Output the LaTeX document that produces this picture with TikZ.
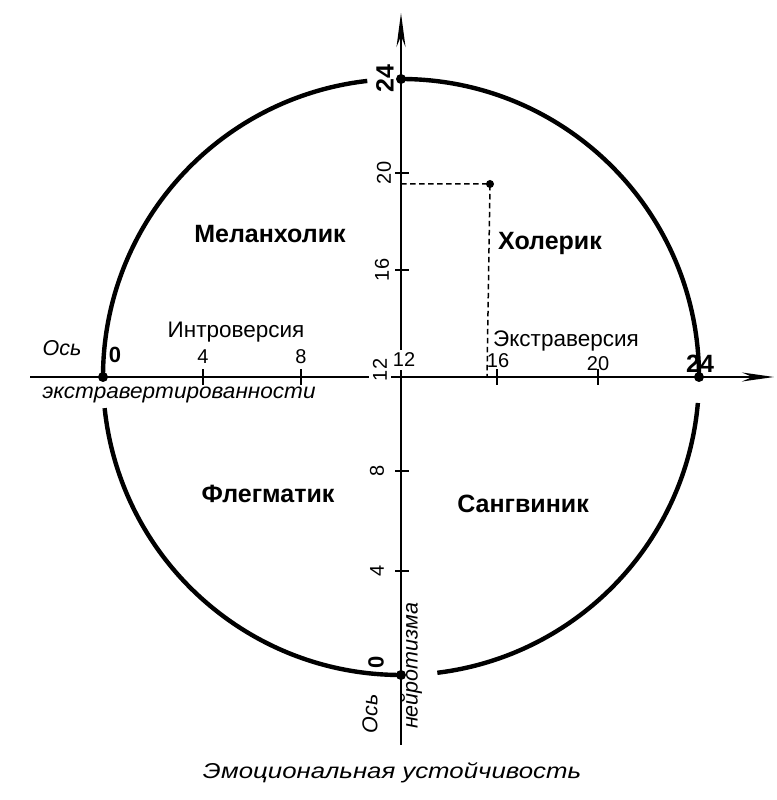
\documentclass[tikz,border=0pt]{standalone}
\usepackage{fontspec}
\setmainfont{Liberation Sans}
\usetikzlibrary{arrows.meta}
\begin{document}
\begin{tikzpicture}[x=1pt,y=1pt,
  axis/.style={line width=2.6pt},
  ring/.style={line width=4.4pt},
  tickmark/.style={line width=2.2pt},
  num/.style={font=\fontsize{20}{20}\selectfont, inner sep=0pt},
  bignum/.style={font=\fontsize{25}{25}\selectfont\bfseries, inner sep=0pt},
  zero/.style={font=\fontsize{22}{22}\selectfont\bfseries, inner sep=0pt},
  typename/.style={font=\fontsize{25}{25}\selectfont\bfseries, inner sep=0pt, anchor=base},
  pole/.style={font=\fontsize{22.5}{22.5}\selectfont, inner sep=0pt, anchor=base},
  axname/.style={font=\fontsize{21.5}{21.5}\selectfont\itshape, inner sep=0pt},
  dot/.style={circle, fill, inner sep=0pt, minimum size=10pt},
  guide/.style={line width=1.5pt, dash pattern=on 5.5pt off 3.5pt}
]
\useasboundingbox (0,0) rectangle (776,800);
% axes
\coordinate (c) at (401,423);
\coordinate (L) at (30,423);
\coordinate (R) at (774,423);
\coordinate (B) at (401,55);
\coordinate (T) at (401,787);
\draw[axis,-{Stealth[length=32pt,width=9pt]}] (L) -- (R);
\draw[axis,-{Stealth[length=34pt,width=9pt]}] (B) -- (T);
% circle arcs with gaps
\draw[ring] (c) ++(96.5:298) arc[start angle=96.5,end angle=180,radius=298];
\draw[ring] (c) ++(186:298) arc[start angle=186,end angle=270,radius=298];
\draw[ring] (c) ++(277:298) arc[start angle=277,end angle=355,radius=298];
\draw[ring] (c) ++(0:298) arc[start angle=0,end angle=90,radius=298];
% crossing dots
\node[dot] (e0) at (103,423) {};
\node[dot] (e24) at (699,423) {};
\node[dot] (n0) at (401,125) {};
\node[dot] (n24) at (401,721) {};
% ticks on horizontal axis
\foreach \name/\x in {h4/203,h8/301,h16/497,h20/598}{
  \coordinate (\name) at (\x,423);
  \draw[tickmark] (\name) ++(0,-8) -- ++(0,16);
}
% ticks on vertical axis
\foreach \name/\y in {v4/229,v8/329,v16/530,v20/627}{
  \coordinate (\name) at (401,\y);
  \draw[tickmark] (\name) ++(-6,0) -- ++(14,0);
}
% data point and guides
\node[dot, minimum size=8pt] (pt) at (490,616) {};
\coordinate (gy) at (401,616);
\coordinate (gx) at (487,423);
\draw[guide] (gy) -- (pt.center) -- (gx);
% horizontal scale labels
\node[zero] (l0) at (115,445) {0};
\node[num] (l4) at (203,443) {4};
\node[num] (l8) at (301,443) {8};
\node[num, fill=white, inner xsep=1pt, inner ysep=3pt] (l12) at (404,440) {12};
\node[num] (l16) at (498,439) {16};
\node[num] (l20) at (598,436) {20};
\node[bignum] (l24) at (700,436) {24};
% vertical scale labels
\node[num, rotate=90, fill=white, inner xsep=1pt, inner ysep=4pt] (m12) at (380,430) {12};
\node[num, rotate=90] (m4) at (377,229) {4};
\node[num, rotate=90] (m8) at (377,329) {8};
\node[num, rotate=90] (m16) at (382,530) {16};
\node[num, rotate=90] (m20) at (384,627) {20};
\node[bignum, rotate=90] (m24) at (385,721) {24};
\node[zero, rotate=90] (m0) at (376,138) {0};
% pole labels
\node[pole] (intro) at (236,462) {Интроверсия};
\node[pole] (extra) at (566,453) {Экстраверсия};
% temperament labels
\node[typename] (mel) at (270,557) {Меланхолик};
\node[typename] (chol) at (550,550) {Холерик};
\node[typename] (phl) at (268,297) {Флегматик};
\node[typename] (sang) at (523,287) {Сангвиник};
% axis names
\node[axname, anchor=base] (ax1) at (62,444) {Ось};
\node[axname, anchor=base, xscale=1.05] (ax2) at (179,401) {экстравертированности};
\node[axname, rotate=90] (ax3) at (370,86) {Ось};
\node[axname, rotate=90] (ax4) at (412,134) {нейротизма};
\node[axname, xscale=1.2] (ax5) at (392,27) {Эмоциональная устойчивость};
\end{tikzpicture}
\end{document}
